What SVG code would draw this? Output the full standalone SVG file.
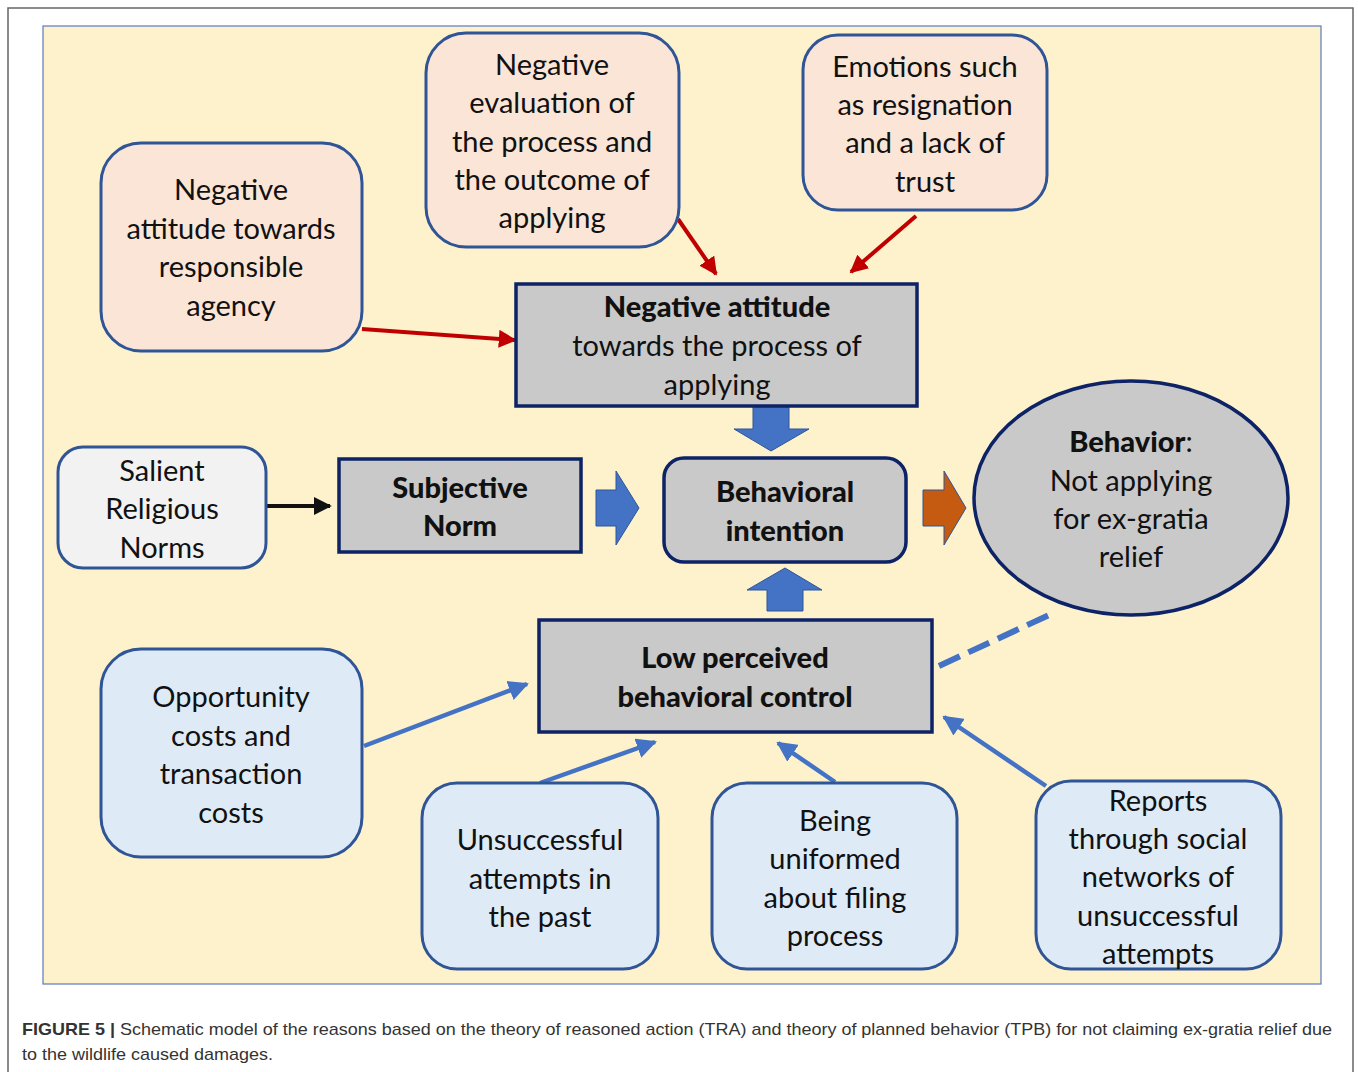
<svg xmlns="http://www.w3.org/2000/svg" width="1358" height="1072" viewBox="0 0 1358 1072">
<defs>
<style>
.t{font-family:Lato,"Open Sans","Liberation Sans",sans-serif;font-size:29px;fill:#111;text-anchor:middle}
.b{font-weight:900}
.pink{fill:#fbe5d6;stroke:#2f5597;stroke-width:3}
.blue{fill:#deebf7;stroke:#2f5597;stroke-width:3}
.light{fill:#f2f2f2;stroke:#2f5597;stroke-width:3}
.gray{fill:#c9c9c9;stroke:#0d2366;stroke-width:3.5}
.red{stroke:#c00000;stroke-width:4;fill:none}
.bl{stroke:#4472c4;stroke-width:4.5;fill:none}
.blk{stroke:#111;stroke-width:4;fill:none}
.block{fill:#4472c4;stroke:#2f5597;stroke-width:1}
.cap{font-family:"Liberation Sans",Arial,sans-serif;font-size:17px;fill:#333}
</style>
<marker id="mr" viewBox="0 0 10 10" refX="9" refY="5" markerWidth="4.5" markerHeight="4.5" orient="auto" markerUnits="strokeWidth"><path d="M0,0 L10,5 L0,10 z" fill="#c00000"/></marker>
<marker id="mb" viewBox="0 0 10 10" refX="9" refY="5" markerWidth="4.5" markerHeight="4.5" orient="auto" markerUnits="strokeWidth"><path d="M0,0 L10,5 L0,10 z" fill="#4472c4"/></marker>
<marker id="mk" viewBox="0 0 10 10" refX="9" refY="5" markerWidth="4.5" markerHeight="4.5" orient="auto" markerUnits="strokeWidth"><path d="M0,0 L10,5 L0,10 z" fill="#111"/></marker>
</defs>
<rect x="0" y="0" width="1358" height="1072" fill="#fff"/>
<path d="M8,1072 V8 H1353 V1072" fill="none" stroke="#666" stroke-width="1.5"/>
<rect x="43" y="26" width="1278" height="958" fill="#fdf2cc" stroke="#5a7bbf" stroke-width="1.2"/>

<g id="connectors">
<line class="red" x1="362" y1="329" x2="515" y2="340" marker-end="url(#mr)"/>
<line class="red" x1="678" y1="219" x2="716" y2="274" marker-end="url(#mr)"/>
<line class="red" x1="916" y1="216" x2="851" y2="272" marker-end="url(#mr)"/>
<line class="blk" x1="266" y1="506" x2="330" y2="506" marker-end="url(#mk)"/>
<path class="block" d="M753,406 H789 V429 H809 L771,451 L734,429 H753 Z"/>
<path class="block" d="M596,490 H616 V471 L639,508 L616,545 V526 H596 Z"/>
<path d="M923,490 H944 V471 L966,508 L944,545 V526 H923 Z" fill="#c55a11" stroke="#2f5597" stroke-width="1"/>
<path class="block" d="M767,611 V590 H747 L785,568 L822,590 H803 V611 Z"/>
<line x1="939" y1="666" x2="1049" y2="615" stroke="#4472c4" stroke-width="6" stroke-dasharray="23,9.4"/>
<line class="bl" x1="364" y1="746" x2="527" y2="684" marker-end="url(#mb)"/>
<line class="bl" x1="540" y1="783" x2="655" y2="742" marker-end="url(#mb)"/>
<line class="bl" x1="835" y1="782" x2="778" y2="743" marker-end="url(#mb)"/>
<line class="bl" x1="1046" y1="786" x2="944" y2="717" marker-end="url(#mb)"/>
</g>

<g id="n1">
<rect class="pink" x="101" y="143" width="261" height="208" rx="40"/>
<text class="t" x="231" y="200">Negative</text>
<text class="t" x="231" y="239">attitude towards</text>
<text class="t" x="231" y="277">responsible</text>
<text class="t" x="231" y="316">agency</text>
</g>
<g id="n2">
<rect class="pink" x="426" y="33" width="253" height="214" rx="40"/>
<text class="t" x="552" y="75">Negative</text>
<text class="t" x="552" y="113">evaluation of</text>
<text class="t" x="552" y="152">the process and</text>
<text class="t" x="552" y="190">the outcome of</text>
<text class="t" x="552" y="228">applying</text>
</g>
<g id="n3">
<rect class="pink" x="803" y="35" width="244" height="175" rx="35"/>
<text class="t" x="925" y="77">Emotions such</text>
<text class="t" x="925" y="115">as resignation</text>
<text class="t" x="925" y="153">and a lack of</text>
<text class="t" x="925" y="192">trust</text>
</g>
<g id="n4">
<rect class="gray" x="516" y="284" width="401" height="122"/>
<text class="t b" x="717" y="317">Negative attitude</text>
<text class="t" x="717" y="356">towards the process of</text>
<text class="t" x="717" y="395">applying</text>
</g>
<g id="n5">
<rect class="light" x="58" y="447" width="208" height="121" rx="25"/>
<text class="t" x="162" y="481">Salient</text>
<text class="t" x="162" y="519">Religious</text>
<text class="t" x="162" y="558">Norms</text>
</g>
<g id="n6">
<rect class="gray" x="339" y="459" width="242" height="93"/>
<text class="t b" x="460" y="498">Subjective</text>
<text class="t b" x="460" y="536">Norm</text>
</g>
<g id="n7">
<rect class="gray" x="664" y="458" width="242" height="104" rx="20"/>
<text class="t b" x="785" y="502">Behavioral</text>
<text class="t b" x="785" y="541">intention</text>
</g>
<g id="n8">
<ellipse cx="1131" cy="498" rx="157" ry="117" fill="#c9c9c9" stroke="#0d2366" stroke-width="3.5"/>
<text class="t" x="1131" y="452"><tspan class="b">Behavior</tspan>:</text>
<text class="t" x="1131" y="491">Not applying</text>
<text class="t" x="1131" y="529">for ex-gratia</text>
<text class="t" x="1131" y="567">relief</text>
</g>
<g id="n9">
<rect class="gray" x="539" y="620" width="393" height="112"/>
<text class="t b" x="735" y="668">Low perceived</text>
<text class="t b" x="735" y="707">behavioral control</text>
</g>
<g id="n10">
<rect class="blue" x="101" y="649" width="261" height="208" rx="40"/>
<text class="t" x="231" y="707">Opportunity</text>
<text class="t" x="231" y="746">costs and</text>
<text class="t" x="231" y="784">transaction</text>
<text class="t" x="231" y="823">costs</text>
</g>
<g id="n11">
<rect class="blue" x="422" y="783" width="236" height="186" rx="35"/>
<text class="t" x="540" y="850">Unsuccessful</text>
<text class="t" x="540" y="889">attempts in</text>
<text class="t" x="540" y="927">the past</text>
</g>
<g id="n12">
<rect class="blue" x="712" y="783" width="245" height="186" rx="35"/>
<text class="t" x="835" y="831">Being</text>
<text class="t" x="835" y="869">uniformed</text>
<text class="t" x="835" y="908">about filing</text>
<text class="t" x="835" y="946">process</text>
</g>
<g id="n13">
<rect class="blue" x="1036" y="781" width="245" height="188" rx="35"/>
<text class="t" x="1158" y="811">Reports</text>
<text class="t" x="1158" y="849">through social</text>
<text class="t" x="1158" y="887">networks of</text>
<text class="t" x="1158" y="926">unsuccessful</text>
<text class="t" x="1158" y="964">attempts</text>
</g>

<text class="cap" x="22" y="1035" textLength="1310" lengthAdjust="spacingAndGlyphs"><tspan font-weight="bold">FIGURE 5 |</tspan> Schematic model of the reasons based on the theory of reasoned action (TRA) and theory of planned behavior (TPB) for not claiming ex-gratia relief due</text>
<text class="cap" x="22" y="1060" textLength="251" lengthAdjust="spacingAndGlyphs">to the wildlife caused damages.</text>
</svg>
